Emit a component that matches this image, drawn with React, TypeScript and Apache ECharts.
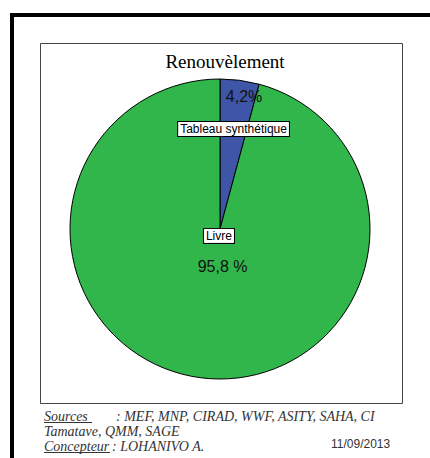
import React, { useEffect, useRef } from "react";
import * as echarts from "echarts";

const chartTitle = "Renouvèlement";
const categories = ["Tableau synthétique", "Livre"];
const values = [4.2, 95.8];
const percentLabels = ["4,2%", "95,8 %"];
const sliceColors = ["#3F55A8", "#31B64B"];
const sourceLabel = "Sources";
const sourceLines = [": MEF, MNP, CIRAD, WWF, ASITY, SAHA, CI", "Tamatave, QMM, SAGE"];
const authorLabel = "Concepteur";
const authorText = ": LOHANIVO A.";
const dateText = "11/09/2013";

const CENTER: [number, number] = [220, 229];
const R = 150;

export default function App() {
  const ref = useRef<HTMLDivElement>(null);

  useEffect(() => {
    if (!ref.current) return;
    const chart = echarts.init(ref.current, null, { renderer: "svg" });

    const transparent = { color: "rgba(0,0,0,0)", borderWidth: 0 };
    const labelSeries = (
      radius: [number, number],
      showIndex: number,
      textOf: (i: number) => string,
      labelStyle: any,
      shift: { dx: number; dy: number }
    ) => ({
      type: "pie",
      center: CENTER,
      radius,
      startAngle: 90,
      clockwise: true,
      silent: true,
      animation: false,
      itemStyle: transparent,
      emphasis: { disabled: true },
      labelLine: { show: false },
      labelLayout: shift,
      data: categories.map((name, i) => ({
        name,
        value: values[i],
        label: {
          show: i === showIndex,
          position: "inside",
          formatter: textOf(i),
          ...labelStyle,
        },
      })),
    });

    const percentStyle = {
      fontFamily: "Liberation Sans, Arial, sans-serif",
      fontSize: 16,
      color: "#111",
    };
    const nameStyle = {
      fontFamily: "Liberation Sans, Arial, sans-serif",
      fontSize: 12,
      color: "#000",
      backgroundColor: "#fff",
      borderColor: "#000",
      borderWidth: 1,
      padding: [1, 2, 1, 2],
    };

    const footerFont = "italic 14px 'Liberation Serif', 'Times New Roman', serif";
    const footerColor = "#333";

    chart.setOption({
      animation: false,
      title: {
        text: chartTitle,
        left: 220,
        top: 47,
        textAlign: "center",
        textStyle: {
          fontFamily: "Liberation Serif, Times New Roman, serif",
          fontSize: 19,
          fontWeight: "normal",
          color: "#000",
        },
      },
      series: [
        {
          type: "pie",
          center: CENTER,
          radius: [0, R],
          startAngle: 90,
          clockwise: true,
          silent: true,
          animation: false,
          label: { show: false },
          labelLine: { show: false },
          emphasis: { disabled: true },
          itemStyle: { borderColor: "#000", borderWidth: 1 },
          data: categories.map((name, i) => ({
            name,
            value: values[i],
            itemStyle: { color: sliceColors[i] },
          })),
        },
        labelSeries([124, 144], 0, (i) => percentLabels[i], percentStyle, { dx: 6, dy: 3 }),
        labelSeries([90, 110], 0, (i) => categories[i], nameStyle, { dx: 0, dy: 2 }),
        labelSeries([28, 48], 1, (i) => percentLabels[i], percentStyle, { dx: 8, dy: -3 }),
        labelSeries([0, 10], 1, (i) => categories[i], nameStyle, { dx: 0, dy: -1 }),
      ],
      graphic: [
        {
          type: "polyline",
          shape: { points: [[12, 458], [12, 15], [430, 15]] },
          style: { stroke: "#000", lineWidth: 4, fill: null },
          silent: true,
        },
        {
          type: "rect",
          shape: { x: 40.5, y: 43.5, width: 362, height: 360 },
          style: { stroke: "#444", lineWidth: 1, fill: null },
          silent: true,
        },
        {
          type: "text",
          x: 44,
          y: 409,
          style: { text: sourceLabel, font: footerFont, fill: footerColor, align: "left", verticalAlign: "top" },
        },
        {
          type: "line",
          shape: { x1: 44, y1: 422.5, x2: 92, y2: 422.5 },
          style: { stroke: footerColor, lineWidth: 1 },
        },
        {
          type: "text",
          x: 116,
          y: 409,
          style: { text: sourceLines[0], font: footerFont, fill: footerColor, align: "left", verticalAlign: "top" },
        },
        {
          type: "text",
          x: 44,
          y: 424,
          style: { text: sourceLines[1], font: footerFont, fill: footerColor, align: "left", verticalAlign: "top" },
        },
        {
          type: "text",
          x: 44,
          y: 439,
          style: { text: authorLabel, font: footerFont, fill: footerColor, align: "left", verticalAlign: "top" },
        },
        {
          type: "line",
          shape: { x1: 44, y1: 452.5, x2: 110, y2: 452.5 },
          style: { stroke: footerColor, lineWidth: 1 },
        },
        {
          type: "text",
          x: 112,
          y: 439,
          style: { text: authorText, font: footerFont, fill: footerColor, align: "left", verticalAlign: "top" },
        },
        {
          type: "text",
          x: 331,
          y: 438,
          style: {
            text: dateText,
            font: "12px 'Liberation Sans', Arial, sans-serif",
            fill: footerColor,
            align: "left",
            verticalAlign: "top",
          },
        },
      ],
    });

    return () => chart.dispose();
  }, []);

  return (
    <div
      ref={ref}
      style={{ position: "fixed", left: 0, top: 0, width: 430, height: 458, background: "#fff" }}
    />
  );
}
